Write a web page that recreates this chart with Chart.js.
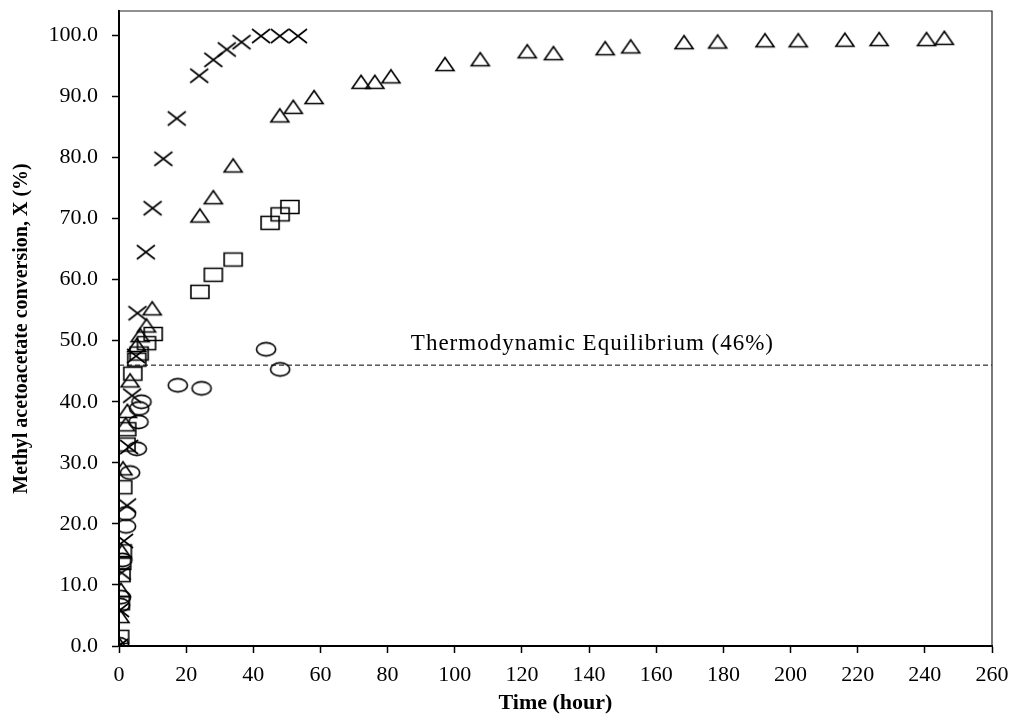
<!DOCTYPE html>
<html>
<head>
<meta charset="utf-8">
<script src="https://cdn.jsdelivr.net/npm/chart.js@4/dist/chart.umd.min.js"></script>
<style>
  html, body { margin: 0; padding: 0; background: #fff; }
  #wrap { width: 1014px; height: 714px; position: relative; }
</style>
</head>
<body>
<div id="wrap"><canvas id="convChart"></canvas></div>
<script>
/* ═══════════════════════════════════════════════
   Conversion of methyl acetoacetate vs time
   ═══════════════════════════════════════════════ */

// ── Data (time in hours, conversion in %) ────────────────────────────
const crossTime = [0, 0.3, 0.8, 1.5, 2.4, 3.0, 3.9, 5.1, 5.5, 8.0, 10.0, 13.2, 17.2, 23.9, 28.1, 32.1, 36.5, 42.3, 47.9, 53.3];
const crossConv = [0, 5.9, 12.0, 17.2, 23.0, 32.6, 41.0, 47.5, 54.5, 64.5, 71.7, 79.8, 86.4, 93.4, 96.0, 97.7, 98.9, 99.9, 99.9, 99.9];

const triTime = [0, 0.3, 0.6, 0.9, 1.2, 2.0, 2.5, 3.3, 5.3, 6.3, 8.2, 9.9, 24.1, 28.1, 34.0, 47.9, 51.9, 58.1, 72.1, 76.2, 81.0, 97.1, 107.6, 121.6, 129.4, 144.8, 152.4, 168.3, 178.3, 192.4, 202.3, 216.2, 226.4, 240.5, 245.8];
const triConv = [0.3, 4.9, 9.2, 15.5, 29.1, 36.3, 38.5, 43.5, 49.3, 50.9, 52.5, 55.3, 70.5, 73.5, 78.7, 86.9, 88.3, 89.9, 92.4, 92.4, 93.3, 95.3, 96.1, 97.4, 97.1, 97.9, 98.2, 98.9, 99.0, 99.2, 99.2, 99.3, 99.4, 99.4, 99.6];

const sqTime = [0.2, 0.4, 0.6, 0.8, 1.0, 1.1, 2.1, 2.3, 4.1, 5.3, 6.0, 8.2, 10.2, 24.1, 28.1, 34.0, 45.0, 48.0, 50.9];
const sqConv = [1.5, 7.0, 11.6, 13.6, 15.5, 26.0, 33.0, 35.5, 44.6, 46.9, 47.9, 49.6, 51.1, 58.0, 60.8, 63.3, 69.3, 70.7, 71.9];

const circTime = [0, 0.3, 0.6, 1.0, 2.1, 2.1, 3.3, 5.3, 5.8, 6.0, 6.7, 17.5, 24.6, 43.8, 48.0];
const circConv = [0.3, 6.7, 8.0, 14.1, 19.6, 21.7, 28.4, 32.3, 36.7, 38.9, 40.0, 42.7, 42.2, 48.6, 45.3];

const eqValue = 46;
const eqLabel = 'Thermodynamic Equilibrium (46%)';
const xRange = [0, 260];
const yRange = [0, 104];
const yTicks = [0, 10, 20, 30, 40, 50, 60, 70, 80, 90, 100];

const toPoints = (xs, ys) => xs.map((x, i) => ({ x, y: ys[i] }));

// ── Hollow markers drawn on small canvases ───────────────────────────
function makeMarker(kind) {
  const c = document.createElement('canvas');
  c.width = 24; c.height = 18;
  const g = c.getContext('2d');
  g.strokeStyle = '#000';
  g.lineWidth = 1.6;
  g.beginPath();
  if (kind === 'circle') {
    g.ellipse(12, 9, 9.6, 6.6, 0, 0, Math.PI * 2);
  } else if (kind === 'square') {
    g.rect(3, 2.5, 18, 13);
  } else if (kind === 'triangle') {
    g.moveTo(12, 2.5); g.lineTo(21, 15.5); g.lineTo(3, 15.5); g.closePath();
  } else {
    g.moveTo(3, 2); g.lineTo(21, 16);
    g.moveTo(21, 2); g.lineTo(3, 16);
  }
  g.stroke();
  return c;
}

// ── Equilibrium label + top/right frame ─────────────────────────────
const framePlugin = {
  id: 'frame',
  afterDraw(chart) {
    const { ctx, chartArea: a, scales } = chart;
    ctx.save();
    ctx.strokeStyle = '#222';
    ctx.lineWidth = 1.2;
    ctx.beginPath();
    ctx.moveTo(a.left, a.top); ctx.lineTo(a.right, a.top); ctx.lineTo(a.right, a.bottom);
    ctx.stroke();

    ctx.fillStyle = '#000';
    ctx.font = "23px 'Liberation Serif', serif";
    ctx.letterSpacing = '1px';
    ctx.textAlign = 'center';
    ctx.textBaseline = 'middle';
    ctx.fillText(eqLabel, scales.x.getPixelForValue(141), scales.y.getPixelForValue(eqValue + 3.5));
    ctx.restore();
  }
};

const pointSet = (label, data, kind) => ({
  label,
  data,
  pointStyle: makeMarker(kind),
  pointRadius: 9,
  showLine: false,
});

const tickFont = { family: "'Liberation Serif', serif", size: 22 };

new Chart(document.getElementById('convChart'), {
  type: 'scatter',
  data: {
    datasets: [
      pointSet('Cross', toPoints(crossTime, crossConv), 'cross'),
      pointSet('Triangle', toPoints(triTime, triConv), 'triangle'),
      pointSet('Square', toPoints(sqTime, sqConv), 'square'),
      pointSet('Circle', toPoints(circTime, circConv), 'circle'),
      {
        label: 'Equilibrium',
        type: 'line',
        data: toPoints(xRange, [eqValue, eqValue]),
        borderColor: '#000',
        borderWidth: 1,
        borderDash: [5, 3],
        pointRadius: 0,
        showLine: true,
      },
    ],
  },
  options: {
    responsive: true,
    maintainAspectRatio: false,
    animation: false,
    layout: { padding: { top: 11, right: 22, left: 0, bottom: 0 } },
    plugins: { legend: { display: false }, tooltip: { enabled: false } },
    scales: {
      x: {
        type: 'linear',
        min: xRange[0],
        max: xRange[1],
        afterFit: s => { s.height = 68; s.paddingLeft = 0; s.paddingRight = 0; },
        ticks: { stepSize: 20, color: '#000', font: tickFont, padding: 9, maxRotation: 0 },
        grid: { drawOnChartArea: false, tickLength: 7, color: '#000', tickWidth: 1.5 },
        border: { color: '#000', width: 2 },
        title: {
          display: true,
          text: 'Time (hour)',
          color: '#000',
          font: { family: "'Liberation Serif', serif", size: 22, weight: 'bold', lineHeight: 1 },
          padding: { top: 0, bottom: 0 },
        },
      },
      y: {
        min: yRange[0],
        max: yRange[1],
        afterBuildTicks: s => { s.ticks = yTicks.map(value => ({ value })); },
        afterFit: s => { s.width = 119; s.paddingTop = 0; s.paddingBottom = 0; },
        ticks: {
          color: '#000',
          font: tickFont,
          padding: 14,
          callback: v => Number(v).toFixed(1),
        },
        grid: { drawOnChartArea: false, tickLength: 7, color: '#000', tickWidth: 1.5 },
        border: { color: '#000', width: 2 },
        title: {
          display: true,
          text: 'Methyl acetoacetate conversion, X (%)',
          color: '#000',
          font: { family: "'Liberation Serif', serif", size: 20, weight: 'bold' },
          padding: { top: 10, bottom: 0 },
        },
      },
    },
  },
  plugins: [framePlugin],
});
</script>
</body>
</html>
